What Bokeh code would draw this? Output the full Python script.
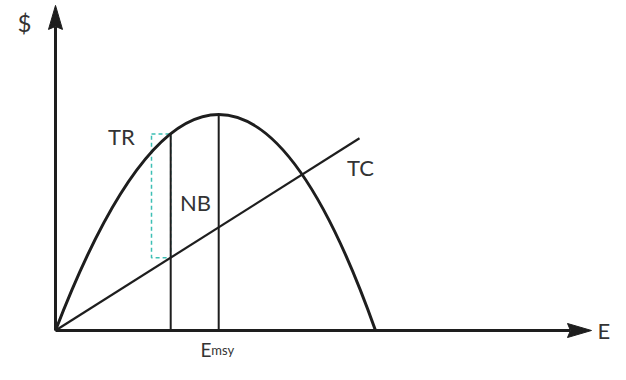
from bokeh.plotting import figure
from bokeh.models import Range1d
from bokeh.core.properties import value
from bokeh.embed import file_html
from bokeh.resources import INLINE

# ---- data (effort E, dollars $) ----
tr_ends_E = [0, 100]        # TR curve start / end (zero revenue)
tr_ctrl = [52, 200]         # quadratic control point (E, $)
tc_E = [0, 95]              # total-cost line
tc_D = [0, 89]
e_msy = 51                  # effort at max sustainable yield
tr_max = 100                # TR at E_msy
e_a = 36                    # effort of the dashed NB gap
tr_a = 91                   # TR at e_a
rect_left = 30              # left edge of dashed box
axis_x_end = 167.5
axis_y_end = 150.5

label_text = ["$", "TR", "NB", "TC"]
label_E = [-9.7, 20.6, 43.75, 95.3]
label_D = [142.4, 89.8, 59.1, 75.6]
label_size = ["24px", "22px", "22px", "22px"]
x_label = "E"
x_label_pos = [169.4, 0]
emsy_main, emsy_sub = "E", "msy"
emsy_pos = [45.3, -8.8]
emsy_sub_E = 48.7

# ---- scale (pixels per unit) ----
SX, SY = 3.2, 2.16
W, H = 610, 364
OX, OY = 55, 330   # origin in figure pixels

p = figure(width=W, height=H, output_backend="svg", toolbar_location=None,
           x_range=Range1d(-OX / SX, (W - OX) / SX),
           y_range=Range1d(-(H - OY) / SY, OY / SY),
           x_axis_location=None, y_axis_location=None, min_border=0)
p.grid.visible = False
p.outline_line_color = None
p.background_fill_color = "white"
p.border_fill_color = "white"

INK = "#1e1e1e"
TXT = "#333333"

tc_at_a = tc_D[1] / tc_E[1] * e_a

# dashed box
p.quad(left=[rect_left], right=[e_a], bottom=[tc_at_a], top=[tr_a],
       fill_color=None, line_color="#3dbfb4", line_dash="4 3", line_width=1.5)

# vertical lines
p.segment(x0=[e_a, e_msy], y0=[0, 0], x1=[e_a, e_msy], y1=[tr_a, tr_max],
          line_color=INK, line_width=2)

# TC line
p.line(x=tc_E, y=tc_D, line_color=INK, line_width=2.2)

# TR curve
p.quadratic(x0=[tr_ends_E[0]], y0=[0], x1=[tr_ends_E[1]], y1=[0],
            cx=[tr_ctrl[0]], cy=[tr_ctrl[1]], line_color=INK, line_width=3)

# axes with arrows
head_len, head_half, notch = 24, 7, 21
p.segment(x0=[0, 0], y0=[0, 0], x1=[axis_x_end - notch / SX, 0],
          y1=[0, axis_y_end - notch / SY], line_color=INK, line_width=3)
p.patch(x=[0, head_half / SX, 0, -head_half / SX],
        y=[axis_y_end, axis_y_end - head_len / SY, axis_y_end - notch / SY,
           axis_y_end - head_len / SY], color=INK)
p.patch(x=[axis_x_end, axis_x_end - head_len / SX, axis_x_end - notch / SX,
           axis_x_end - head_len / SX],
        y=[0, head_half / SY, 0, -head_half / SY], color=INK)

FONT = value("Lato")
for t, xe, yd, fs in zip(label_text, label_E, label_D, label_size):
    p.text(x=[xe], y=[yd], text=[t], text_font=FONT,
           text_font_size=fs, text_align="center", text_baseline="middle",
           text_color=TXT)
p.text(x=[x_label_pos[0]], y=[x_label_pos[1]], text=[x_label], text_font=FONT,
       text_font_size="22px", text_align="left", text_baseline="middle",
       text_color=TXT)
p.text(x=[emsy_pos[0]], y=[emsy_pos[1]], text=[emsy_main], text_font=FONT,
       text_font_size="19px", text_align="left", text_baseline="alphabetic",
       text_color=TXT)
p.text(x=[emsy_sub_E], y=[emsy_pos[1]], text=[emsy_sub], text_font=FONT,
       text_font_size="13px", text_align="left", text_baseline="alphabetic",
       text_color=TXT)

open("out.html", "w").write(file_html(p, INLINE))
